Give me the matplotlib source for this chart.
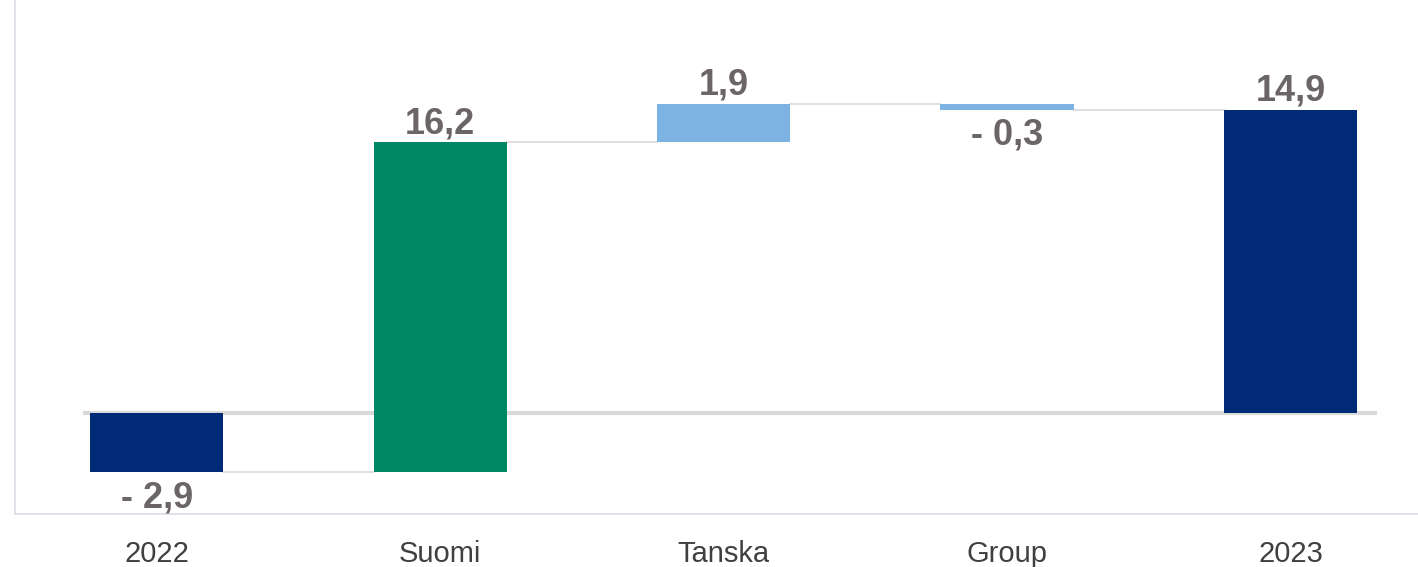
import matplotlib.pyplot as plt
import numpy as np

# waterfall data
categories = ['2022', 'Suomi', 'Tanska', 'Group', '2023']
changes = [-2.9, 16.2, 1.9, -0.3, 14.9]
is_total = [True, False, False, False, True]
labels = ['- 2,9', '16,2', '1,9', '- 0,3', '14,9']
colors = ['#002a75', '#008866', '#7db3e2', '#7db3e2', '#002a75']

plt.rcParams['font.family'] = ['Liberation Sans', 'DejaVu Sans']

fig = plt.figure(figsize=(14.18, 5.67), dpi=100)
ax = fig.add_axes([15 / 1418, 53 / 567, 1 - 15 / 1418, 514 / 567])

x = np.arange(len(categories))
width = 0.47

# compute bottoms / ends
bottoms = []
ends = []
running = 0.0
for val, tot in zip(changes, is_total):
    if tot:
        b = 0.0
        running = val
        bottoms.append(b)
        ends.append(val)
    else:
        b = running
        running = running + val
        bottoms.append(b)
        ends.append(running)

ax.axhline(0, xmin=(-0.254 + 0.5) / 4.95, xmax=(4.30 + 0.5) / 4.95,
           color='#d9d9d9', lw=3, zorder=1)

ax.bar(x, np.array(ends) - np.array(bottoms), bottom=bottoms, width=width,
       color=colors, zorder=3)

# connectors
for i in range(len(x) - 1):
    ax.plot([x[i] + width / 2, x[i + 1] - width / 2], [ends[i], ends[i]],
            color='#dcdcdc', lw=1.3, zorder=2)

# value labels
for i in range(len(x)):
    top = max(bottoms[i], ends[i])
    low = min(bottoms[i], ends[i])
    if changes[i] < 0:
        ax.text(x[i], low - 0.4, labels[i], ha='center', va='top',
                fontsize=26, fontweight='bold', color='#6b6565')
    else:
        ax.text(x[i], top + 0.05, labels[i], ha='center', va='bottom',
                fontsize=26, fontweight='bold', color='#6b6565')

ax.set_xlim(-0.5, 4.45)
ax.set_ylim(-4.97, 20.3)
ax.set_xticks(x)
ax.set_xticklabels(categories, fontsize=21, color='#404040')
ax.tick_params(axis='x', length=0, pad=19)
ax.set_yticks([])

for side in ['top', 'right']:
    ax.spines[side].set_visible(False)
ax.spines['left'].set_color('#dcdce6')
ax.spines['bottom'].set_color('#dcdce6')
ax.spines['left'].set_linewidth(1.2)
ax.spines['bottom'].set_linewidth(1.2)

fig.savefig('out.png', dpi=100)
